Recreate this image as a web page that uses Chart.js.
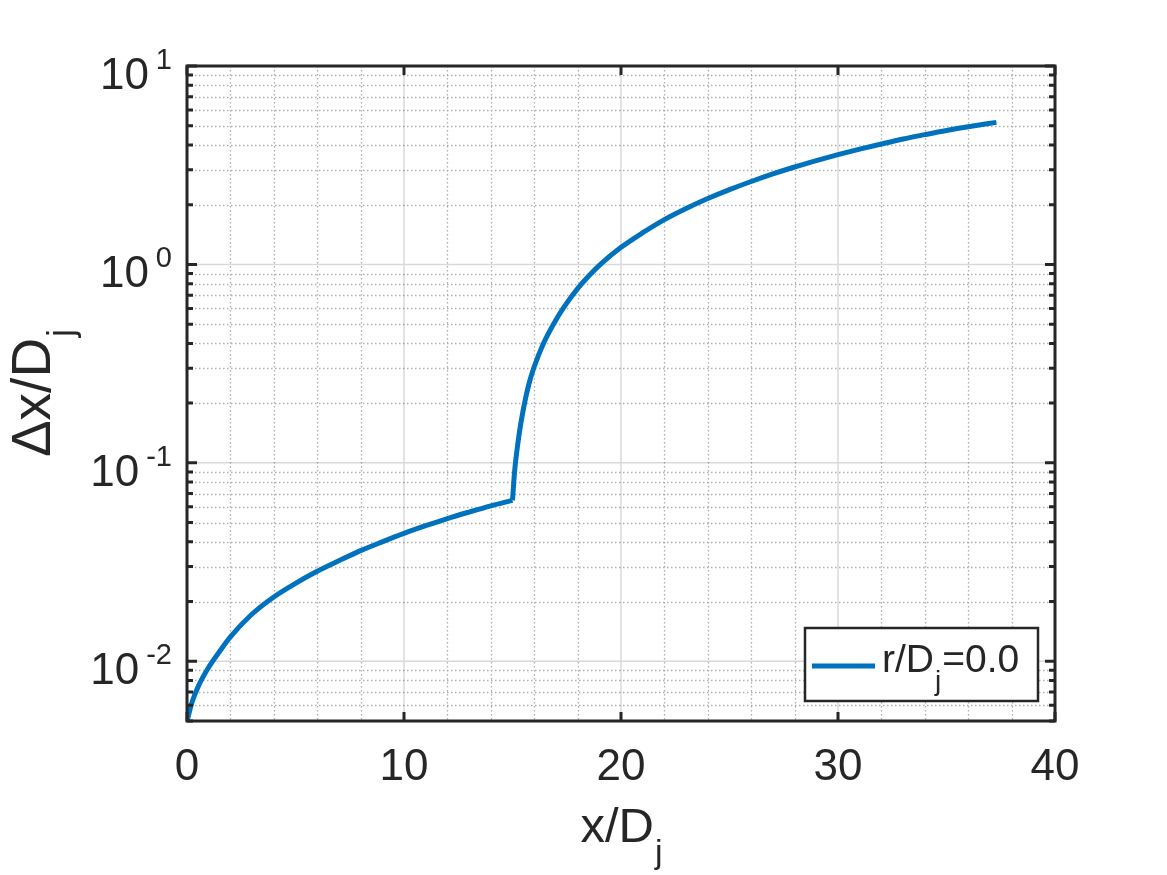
<!DOCTYPE html>
<html lang="en">
<head>
    <meta charset="UTF-8">
    <meta name="viewport" content="width=device-width, initial-scale=1.0">
    <title>Grid spacing along the jet axis</title>
    <script src="https://cdn.jsdelivr.net/npm/chart.js"></script>
    <style>
        body {
            margin: 0;
            background-color: #ffffff;
        }
        #wrap {
            width: 1167px;
            height: 875px;
        }
    </style>
</head>
<body>
    <div id="wrap"><canvas id="spacingChart" width="1167" height="875"></canvas></div>

    <script>
        // x/Dj positions and grid spacing dx/Dj
        const xPos = [0, 0.25, 0.55, 1.0, 1.5, 2, 3, 4, 5, 6, 7, 8, 9, 10, 11, 12, 13, 14,
            15.0, 15.1, 15.25, 15.4, 15.6, 15.8, 16.0, 16.4, 17.0, 17.5, 18.0, 18.5, 19,
            20, 21, 22, 23, 24, 25, 26, 27, 28, 29, 30, 31, 32, 33, 34, 35, 36, 37.3];
        const dxVals = [0.005, 0.0063, 0.0076, 0.00933, 0.0112, 0.01327, 0.0173, 0.0211, 0.0247,
            0.0284, 0.0321, 0.0361, 0.0400, 0.0441, 0.0482, 0.0524, 0.0565, 0.0607,
            0.0647, 0.0912, 0.126, 0.162, 0.211, 0.260, 0.305, 0.394, 0.525, 0.638, 0.755, 0.871, 0.989,
            1.219, 1.445, 1.683, 1.914, 2.148, 2.382, 2.618, 2.858, 3.097, 3.334, 3.573, 3.811, 4.046,
            4.285, 4.508, 4.732, 4.943, 5.2];
        // the spacing law changes at x/Dj = 15
        const kinkX = 15.0;

        const xTicks = [0, 10, 20, 30, 40];
        const xTickLabels = ['0', '10', '20', '30', '40'];
        const yDecades = [0.01, 0.1, 1, 10];
        const yExponents = ['-2', '-1', '0', '1'];
        const legendText = ['r/D', 'j', '=0.0'];

        const FONT = '"Liberation Sans", Arial, Helvetica, sans-serif';
        const INK = '#262626';
        const BLUE = '#0072BD';

        // text with a subscript tail, e.g. x/D_j
        function subWidth(ctx, main, sub, size, subSize) {
            ctx.font = size + 'px ' + FONT;
            const w1 = ctx.measureText(main).width;
            ctx.font = subSize + 'px ' + FONT;
            return w1 + ctx.measureText(sub).width;
        }

        const matlabAxes = {
            id: 'matlabAxes',
            beforeDatasetsDraw(chart) {
                const { ctx, chartArea: a, scales: { x, y } } = chart;
                ctx.save();

                // minor grid, dotted
                ctx.strokeStyle = 'rgba(0,0,0,0.32)';
                ctx.lineWidth = 1.3;
                ctx.setLineDash([1.5, 2.5]);
                ctx.beginPath();
                for (let v = 2; v < 40; v += 2) {
                    if (v % 10 === 0) continue;
                    const px = Math.round(x.getPixelForValue(v)) + 0.5;
                    ctx.moveTo(px, a.top);
                    ctx.lineTo(px, a.bottom);
                }
                for (let e = -3; e <= 1; e++) {
                    for (let m = 2; m <= 9; m++) {
                        const v = m * Math.pow(10, e);
                        if (v < y.min || v > y.max) continue;
                        const py = Math.round(y.getPixelForValue(v)) + 0.5;
                        ctx.moveTo(a.left, py);
                        ctx.lineTo(a.right, py);
                    }
                }
                ctx.stroke();

                // major grid, solid light
                ctx.setLineDash([]);
                ctx.strokeStyle = 'rgba(0,0,0,0.15)';
                ctx.lineWidth = 1.5;
                ctx.beginPath();
                xTicks.forEach(v => {
                    const px = x.getPixelForValue(v);
                    ctx.moveTo(px, a.top);
                    ctx.lineTo(px, a.bottom);
                });
                yDecades.forEach(v => {
                    const py = y.getPixelForValue(v);
                    ctx.moveTo(a.left, py);
                    ctx.lineTo(a.right, py);
                });
                ctx.stroke();
                ctx.restore();
            },
            afterDraw(chart) {
                const { ctx, chartArea: a, scales: { x, y } } = chart;
                ctx.save();
                ctx.strokeStyle = INK;
                ctx.fillStyle = INK;

                // tick marks, pointing inwards, on all four sides
                ctx.lineWidth = 3;
                ctx.beginPath();
                xTicks.forEach(v => {
                    const px = x.getPixelForValue(v);
                    ctx.moveTo(px, a.bottom);
                    ctx.lineTo(px, a.bottom - 9);
                    ctx.moveTo(px, a.top);
                    ctx.lineTo(px, a.top + 9);
                });
                for (let e = -3; e <= 1; e++) {
                    for (let m = 1; m <= 9; m++) {
                        const v = m * Math.pow(10, e);
                        if (v < y.min || v > y.max) continue;
                        const py = y.getPixelForValue(v);
                        const len = m === 1 ? 10 : 6;
                        ctx.moveTo(a.left, py);
                        ctx.lineTo(a.left + len, py);
                        ctx.moveTo(a.right, py);
                        ctx.lineTo(a.right - len, py);
                    }
                }
                ctx.stroke();

                // axes box
                ctx.lineWidth = 3;
                ctx.strokeRect(a.left, a.top, a.right - a.left, a.bottom - a.top);

                // x tick labels
                ctx.font = '44px ' + FONT;
                ctx.textAlign = 'center';
                ctx.textBaseline = 'alphabetic';
                xTicks.forEach((v, i) => {
                    ctx.fillText(xTickLabels[i], x.getPixelForValue(v), 780);
                });

                // y tick labels 10^n
                yDecades.forEach((v, i) => {
                    const py = y.getPixelForValue(v);
                    ctx.font = '29px ' + FONT;
                    ctx.textAlign = 'right';
                    const ew = ctx.measureText(yExponents[i]).width;
                    ctx.fillText(yExponents[i], a.left - 15, py + 3);
                    ctx.font = '44px ' + FONT;
                    ctx.fillText('10', a.left - 22 - ew, py + 23);
                });

                // x axis title
                const xw = subWidth(ctx, 'x/D', 'j', 49, 34);
                let tx = (a.left + a.right) / 2 - xw / 2;
                ctx.textAlign = 'left';
                ctx.font = '49px ' + FONT;
                ctx.fillText('x/D', tx, 842);
                tx += ctx.measureText('x/D').width;
                ctx.font = '34px ' + FONT;
                ctx.fillText('j', tx + 1, 863);

                // y axis title, rotated
                ctx.save();
                ctx.translate(50, (a.top + a.bottom) / 2);
                ctx.rotate(-Math.PI / 2);
                const yw = subWidth(ctx, '\u0394x/D', 'j', 55, 36);
                ctx.font = '55px ' + FONT;
                ctx.fillText('\u0394x/D', -yw / 2, 0);
                const mw = ctx.measureText('\u0394x/D').width;
                ctx.font = '36px ' + FONT;
                ctx.fillText('j', -yw / 2 + mw + 1, 23);
                ctx.restore();

                // legend
                const lx = a.right - 250, ly = a.bottom - 93, lw = 233, lh = 73;
                ctx.fillStyle = '#ffffff';
                ctx.fillRect(lx, ly, lw, lh);
                ctx.lineWidth = 2.5;
                ctx.strokeRect(lx, ly, lw, lh);
                ctx.strokeStyle = BLUE;
                ctx.lineWidth = 5;
                ctx.beginPath();
                ctx.moveTo(lx + 7, ly + 38);
                ctx.lineTo(lx + 70, ly + 38);
                ctx.stroke();
                ctx.fillStyle = INK;
                ctx.font = '39px ' + FONT;
                let gx = lx + 77;
                ctx.fillText(legendText[0], gx, ly + 44);
                gx += ctx.measureText(legendText[0]).width;
                ctx.font = '28px ' + FONT;
                ctx.fillText(legendText[1], gx + 1, ly + 62);
                gx += ctx.measureText(legendText[1]).width + 2;
                ctx.font = '39px ' + FONT;
                ctx.fillText(legendText[2], gx, ly + 44);

                ctx.restore();
            }
        };

        // two pieces so the corner at x/Dj = 15 stays sharp
        const points = xPos.map((v, i) => ({ x: v, y: dxVals[i] }));
        const k = xPos.indexOf(kinkX);
        const lineStyle = {
            borderColor: BLUE,
            borderWidth: 5,
            pointRadius: 0,
            cubicInterpolationMode: 'monotone',
            fill: false
        };

        const ctx = document.getElementById('spacingChart').getContext('2d');
        new Chart(ctx, {
            type: 'line',
            data: {
                datasets: [
                    Object.assign({ label: 'r/Dj=0.0', data: points.slice(0, k + 1) }, lineStyle),
                    Object.assign({ label: 'r/Dj=0.0 (far)', data: points.slice(k) }, lineStyle)
                ]
            },
            options: {
                responsive: false,
                animation: false,
                layout: { padding: { top: 66, right: 112, left: 0, bottom: 0 } },
                plugins: {
                    legend: { display: false },
                    tooltip: { enabled: false }
                },
                scales: {
                    x: {
                        type: 'linear',
                        min: 0,
                        max: 40,
                        ticks: { display: false },
                        grid: { display: false },
                        border: { display: false },
                        afterFit: s => { s.height = 154; }
                    },
                    y: {
                        type: 'logarithmic',
                        min: 0.005,
                        max: 10,
                        ticks: { display: false },
                        grid: { display: false },
                        border: { display: false },
                        afterFit: s => { s.width = 187; }
                    }
                }
            },
            plugins: [matlabAxes]
        });
    </script>
</body>
</html>
